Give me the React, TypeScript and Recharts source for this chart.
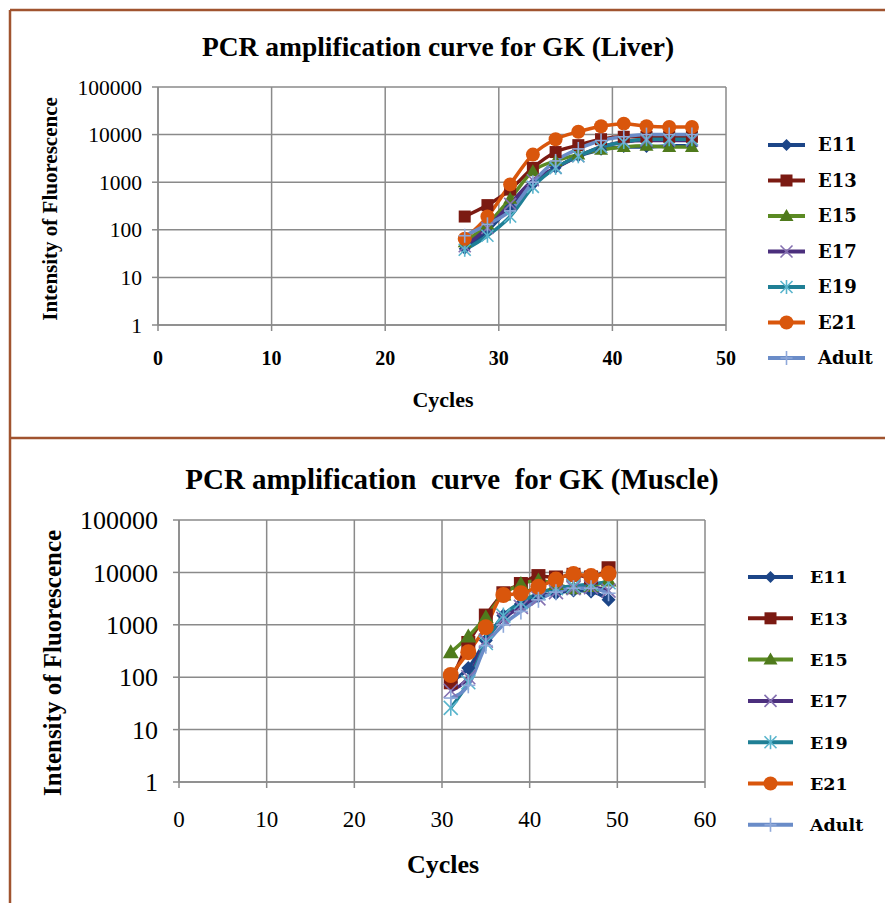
import React from 'react';
import { LineChart, Line, XAxis, YAxis, CartesianGrid } from 'recharts';

// cycles and fluorescence values
const liverCycles = [27, 29, 31, 33, 35, 37, 39, 41, 43, 45, 47];
const liverE11 = [40, 95, 300, 900, 2000, 3500, 4800, 5500, 5500, 5800, 5800];
const liverE13 = [190, 330, 700, 2000, 4300, 6000, 8000, 9000, 9000, 9000, 9000];
const liverE15 = [55, 130, 450, 1700, 2800, 3800, 4800, 5500, 5800, 5500, 5500];
const liverE17 = [45, 110, 350, 1100, 2000, 3500, 5500, 7000, 7500, 7500, 7500];
const liverE19 = [38, 75, 190, 800, 2000, 3500, 5500, 7000, 8000, 8000, 8000];
const liverE21 = [65, 190, 900, 3800, 8000, 11500, 15000, 17000, 15000, 14500, 14500];
const liverAdult = [75, 130, 250, 1000, 2800, 5000, 7500, 9000, 10000, 10000, 10000];

const muscleCycles = [31, 33, 35, 37, 39, 41, 43, 45, 47, 49];
const muscleE11 = [80, 150, 500, 1500, 2500, 3500, 4000, 4500, 4300, 3000];
const muscleE13 = [80, 450, 1500, 4000, 6000, 8500, 8000, 9000, 8000, 12000];
const muscleE15 = [300, 600, 1400, 3800, 6000, 7000, 6000, 5000, 5500, 7000];
const muscleE17 = [55, 100, 500, 1300, 2200, 3200, 4200, 5000, 5200, 4500];
const muscleE19 = [26, 80, 450, 1500, 2700, 4000, 5000, 5500, 6000, 6500];
const muscleE21 = [110, 300, 900, 3700, 4000, 5300, 7300, 9300, 8500, 9500];
const muscleAdult = [40, 70, 400, 1000, 1800, 3000, 4200, 5000, 5000, 4000];

const yTicks = [1, 10, 100, 1000, 10000, 100000];
const liverXTicks = [0, 10, 20, 30, 40, 50];
const muscleXTicks = [0, 10, 20, 30, 40, 50, 60];

const SERIES = [
  { key: 'E11', color: '#1C4587', marker: '#1C4587', shape: 'diamond' },
  { key: 'E13', color: '#7B1A12', marker: '#7B1A12', shape: 'square' },
  { key: 'E15', color: '#5B8A23', marker: '#4F7A1C', shape: 'triangle' },
  { key: 'E17', color: '#4B2F7D', marker: '#8470B0', shape: 'cross' },
  { key: 'E19', color: '#1F7F95', marker: '#58B4CC', shape: 'star' },
  { key: 'E21', color: '#D9560C', marker: '#D9560C', shape: 'circle' },
  { key: 'Adult', color: '#6A8CC8', marker: '#8FA9DA', shape: 'plus' },
];

const buildRows = (cycles: number[], cols: Record<string, number[]>) =>
  cycles.map((c, i) => {
    const row: Record<string, number> = { cycle: c };
    Object.keys(cols).forEach((k) => (row[k] = cols[k][i]));
    return row;
  });

const liverData = buildRows(liverCycles, {
  E11: liverE11, E13: liverE13, E15: liverE15, E17: liverE17,
  E19: liverE19, E21: liverE21, Adult: liverAdult,
});
const muscleData = buildRows(muscleCycles, {
  E11: muscleE11, E13: muscleE13, E15: muscleE15, E17: muscleE17,
  E19: muscleE19, E21: muscleE21, Adult: muscleAdult,
});

const FONT = '"Liberation Serif", "Times New Roman", serif';
const LEGEND_FONT = '"DejaVu Serif", serif';
const GRID = '#8a8a8a';
const BORDER = '#A0532F';

function marker(shape: string, x: number, y: number, color: string, s: number, key?: string) {
  switch (shape) {
    case 'diamond':
      return <polygon key={key} points={`${x},${y - s} ${x + s},${y} ${x},${y + s} ${x - s},${y}`} fill={color} />;
    case 'square':
      return <rect key={key} x={x - s} y={y - s} width={s * 2} height={s * 2} fill={color} />;
    case 'triangle':
      return <polygon key={key} points={`${x},${y - s - 1} ${x + s + 1},${y + s - 1} ${x - s - 1},${y + s - 1}`} fill={color} />;
    case 'cross':
      return (
        <g key={key} stroke={color} strokeWidth={1.6}>
          <line x1={x - s} y1={y - s} x2={x + s} y2={y + s} />
          <line x1={x - s} y1={y + s} x2={x + s} y2={y - s} />
        </g>
      );
    case 'star':
      return (
        <g key={key} stroke={color} strokeWidth={1.6}>
          <line x1={x - s} y1={y - s} x2={x + s} y2={y + s} />
          <line x1={x - s} y1={y + s} x2={x + s} y2={y - s} />
          <line x1={x} y1={y - s - 1} x2={x} y2={y + s + 1} />
        </g>
      );
    case 'circle':
      return <circle key={key} cx={x} cy={y} r={s + 1} fill={color} />;
    default:
      return (
        <g key={key} stroke={color} strokeWidth={1.6}>
          <line x1={x} y1={y - s - 1} x2={x} y2={y + s + 1} />
          <line x1={x - s} y1={y} x2={x + s} y2={y} />
        </g>
      );
  }
}

type PanelProps = {
  data: Record<string, number>[];
  top: number;
  height: number;
  margin: { top: number; right: number; bottom: number; left: number };
  xMax: number;
  xTicks: number[];
  yTickSize: number;
  xTickSize: number;
  xBold: boolean;
  yMargin: number;
  xMargin: number;
  dot: number;
};

function Panel(p: PanelProps) {
  return (
    <div style={{ position: 'absolute', left: 0, top: p.top }}>
      <LineChart width={885} height={p.height} data={p.data} margin={p.margin}>
        <CartesianGrid stroke={GRID} strokeWidth={1.5} />
        <XAxis
          type="number"
          dataKey="cycle"
          domain={[0, p.xMax]}
          ticks={p.xTicks}
          allowDataOverflow
          height={30}
          stroke={GRID}
          strokeWidth={1.5}
          tickSize={6}
          tickMargin={p.xMargin}
          tick={{ fill: '#000', fontFamily: FONT, fontSize: p.xTickSize, fontWeight: p.xBold ? 'bold' : 'normal' }}
        />
        <YAxis
          scale="log"
          type="number"
          domain={[1, 100000]}
          ticks={yTicks}
          allowDataOverflow
          width={60}
          stroke={GRID}
          strokeWidth={1.5}
          tickSize={6}
          tickMargin={p.yMargin}
          tickFormatter={(v: number) => String(v)}
          tick={{ fill: '#000', fontFamily: FONT, fontSize: p.yTickSize }}
        />
        {SERIES.map((s) => (
          <Line
            key={s.key}
            type="monotone"
            dataKey={s.key}
            stroke={s.color}
            strokeWidth={3.5}
            isAnimationActive={false}
            dot={(d: any) => marker(s.shape, d.cx, d.cy, s.marker, p.dot, `${s.key}-${d.index}`)}
            activeDot={false}
          />
        ))}
      </LineChart>
    </div>
  );
}

function LegendBlock({ x0, x1, tx, y0, gap, size, s }: { x0: number; x1: number; tx: number; y0: number; gap: number; size: number; s: number }) {
  return (
    <g>
      {SERIES.map((ser, i) => {
        const y = y0 + i * gap;
        return (
          <g key={ser.key}>
            <line x1={x0} y1={y} x2={x1} y2={y} stroke={ser.color} strokeWidth={4} />
            {marker(ser.shape, (x0 + x1) / 2, y, ser.marker, s)}
            <text x={tx} y={y + size * 0.36} fontFamily={LEGEND_FONT} fontWeight="bold" fontSize={size} fill="#000">
              {ser.key}
            </text>
          </g>
        );
      })}
    </g>
  );
}

export default function App() {
  return (
    <div style={{ position: 'absolute', left: 0, top: 0, width: 885, height: 903, background: '#fff', overflow: 'hidden' }}>
      <Panel
        data={liverData}
        top={0}
        height={440}
        margin={{ top: 87, right: 159, bottom: 85, left: 98 }}
        xMax={50}
        xTicks={liverXTicks}
        yTickSize={21.5}
        xTickSize={20}
        xBold
        yMargin={10}
        xMargin={20}
        dot={6}
      />
      <Panel
        data={muscleData}
        top={440}
        height={463}
        margin={{ top: 80, right: 180, bottom: 91, left: 119 }}
        xMax={60}
        xTicks={muscleXTicks}
        yTickSize={26}
        xTickSize={23}
        xBold={false}
        yMargin={15}
        xMargin={23}
        dot={7}
      />
      <svg width={885} height={903} style={{ position: 'absolute', left: 0, top: 0, pointerEvents: 'none' }}>
        <line x1={10} y1={10} x2={885} y2={10} stroke={BORDER} strokeWidth={2.5} />
        <line x1={10} y1={10} x2={10} y2={903} stroke={BORDER} strokeWidth={2.5} />
        <line x1={10} y1={438} x2={885} y2={438} stroke={BORDER} strokeWidth={2.5} />

        <text x={438} y={56} textAnchor="middle" fontFamily={FONT} fontWeight="bold" fontSize={27.5}>
          PCR amplification curve for GK (Liver)
        </text>
        <text x={452} y={489} textAnchor="middle" fontFamily={FONT} fontWeight="bold" fontSize={29} style={{ whiteSpace: 'pre' }}>
          {'PCR amplification  curve  for GK (Muscle)'}
        </text>

        <text transform="translate(57,209) rotate(-90)" textAnchor="middle" fontFamily={FONT} fontWeight="bold" fontSize={21}>
          Intensity of Fluorescence
        </text>
        <text transform="translate(61,663) rotate(-90)" textAnchor="middle" fontFamily={FONT} fontWeight="bold" fontSize={25}>
          Intensity of Fluorescence
        </text>

        <text x={443} y={407} textAnchor="middle" fontFamily={FONT} fontWeight="bold" fontSize={22}>
          Cycles
        </text>
        <text x={443} y={873} textAnchor="middle" fontFamily={FONT} fontWeight="bold" fontSize={26}>
          Cycles
        </text>

        <LegendBlock x0={768} x1={805} tx={818} y0={145} gap={35.5} size={18} s={6} />
        <LegendBlock x0={748} x1={793} tx={810} y0={577} gap={41.3} size={17.5} s={6} />
      </svg>
    </div>
  );
}
